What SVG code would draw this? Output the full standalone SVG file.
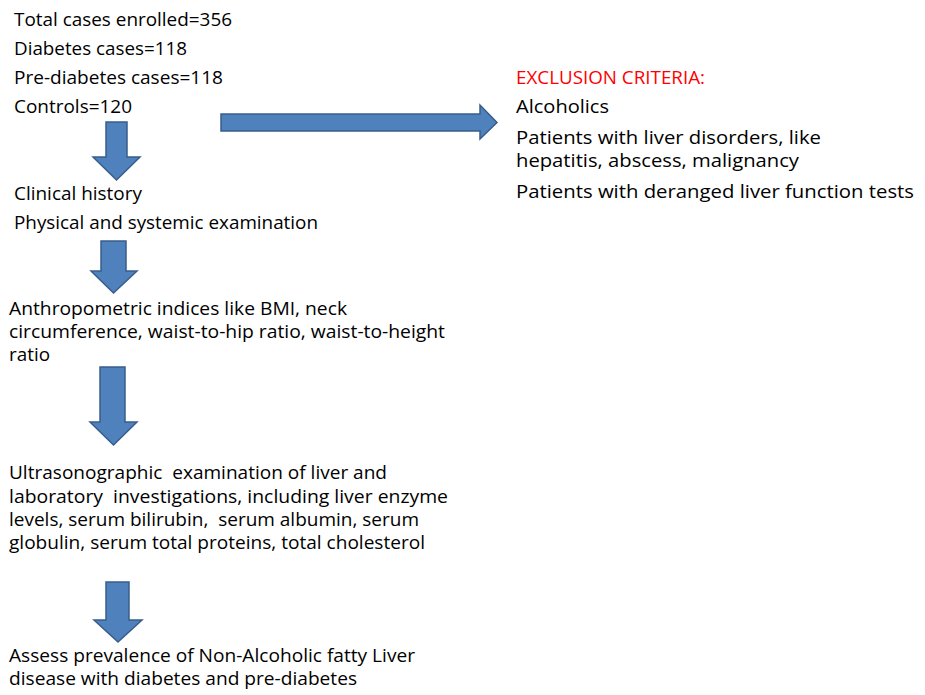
<svg xmlns="http://www.w3.org/2000/svg" width="925" height="695" viewBox="0 0 925 695">
<style>
text{font-family:"Open Sans","Noto Sans","Liberation Sans",sans-serif;font-size:18.5px;fill:#000;white-space:pre}
.red{fill:#FF0000}
.arr{fill:#4F81BD;stroke:#385D8A;stroke-width:1.5;stroke-linejoin:miter}
</style>
<rect width="925" height="695" fill="#fff"/>
<g id="connectors">
<polygon class="arr" points="106,122 127,122 127,157 140,157 116.5,180 93,157 106,157"/>
<polygon class="arr" points="221,114 480,114 480,105 497,122.5 480,139 480,131 221,131"/>
<polygon class="arr" points="101,241 126,241 126,271 137,271 113.5,293 91,271 101,271"/>
<polygon class="arr" points="100,367 125,367 125,422 137,422 113.5,445 90,422 100,422"/>
<polygon class="arr" points="106,582 129,582 129,620 142,620 118,642 94,620 106,620"/>
</g>
<g id="node-enrolled">
<text x="14" y="26" textLength="218" lengthAdjust="spacingAndGlyphs">Total cases enrolled=356</text>
<text x="14" y="55" textLength="173" lengthAdjust="spacingAndGlyphs">Diabetes cases=118</text>
<text x="14" y="84" textLength="209" lengthAdjust="spacingAndGlyphs">Pre-diabetes cases=118</text>
<text x="14" y="113" textLength="118" lengthAdjust="spacingAndGlyphs">Controls=120</text>
</g>
<g id="node-exclusion">
<text class="red" x="516" y="84" textLength="189" lengthAdjust="spacingAndGlyphs">EXCLUSION CRITERIA:</text>
<text x="516" y="113" textLength="93" lengthAdjust="spacingAndGlyphs">Alcoholics</text>
<text x="516" y="144" textLength="305" lengthAdjust="spacingAndGlyphs">Patients with liver disorders, like</text>
<text x="516" y="167" textLength="283" lengthAdjust="spacingAndGlyphs">hepatitis, abscess, malignancy</text>
<text x="516" y="198" textLength="398" lengthAdjust="spacingAndGlyphs">Patients with deranged liver function tests</text>
</g>
<g id="node-history">
<text x="14" y="200" textLength="128" lengthAdjust="spacingAndGlyphs">Clinical history</text>
<text x="14" y="229" textLength="304" lengthAdjust="spacingAndGlyphs">Physical and systemic examination</text>
</g>
<g id="node-anthropometric">
<text x="9" y="315" textLength="338" lengthAdjust="spacingAndGlyphs">Anthropometric indices like BMI, neck</text>
<text x="9" y="338" textLength="436" lengthAdjust="spacingAndGlyphs">circumference, waist-to-hip ratio, waist-to-height</text>
<text x="9" y="361" textLength="41" lengthAdjust="spacingAndGlyphs">ratio</text>
</g>
<g id="node-ultrasound">
<text x="9" y="479" textLength="378" lengthAdjust="spacingAndGlyphs">Ultrasonographic  examination of liver and</text>
<text x="9" y="503" textLength="439" lengthAdjust="spacingAndGlyphs">laboratory  investigations, including liver enzyme</text>
<text x="9" y="526" textLength="410" lengthAdjust="spacingAndGlyphs">levels, serum bilirubin,  serum albumin, serum</text>
<text x="9" y="549" textLength="416" lengthAdjust="spacingAndGlyphs">globulin, serum total proteins, total cholesterol</text>
</g>
<g id="node-assess">
<text x="9" y="662" textLength="406" lengthAdjust="spacingAndGlyphs">Assess prevalence of Non-Alcoholic fatty Liver</text>
<text x="9" y="685" textLength="348" lengthAdjust="spacingAndGlyphs">disease with diabetes and pre-diabetes</text>
</g>
</svg>
